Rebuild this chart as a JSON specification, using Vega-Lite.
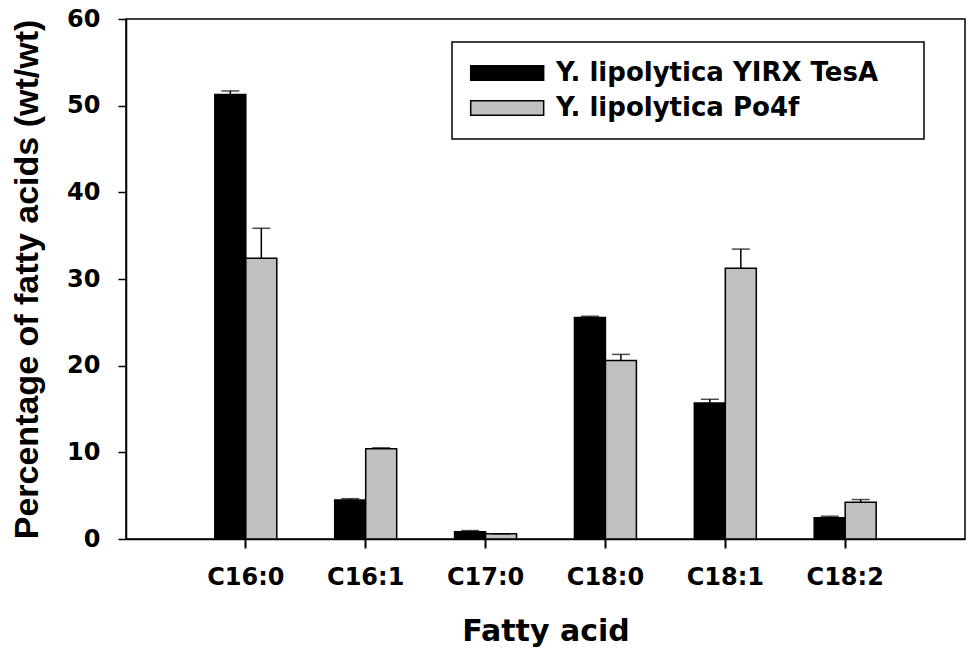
{
  "$schema": "https://vega.github.io/schema/vega-lite/v6.json",
  "width": 839,
  "height": 520,
  "autosize": {"type": "none"},
  "padding": {"left": 126, "top": 19, "right": 9, "bottom": 120},
  "background": "white",
  "config": {
    "view": {"stroke": "black", "strokeWidth": 1.5},
    "axis": {
      "domainColor": "black",
      "domainWidth": 1.5,
      "tickColor": "black",
      "tickWidth": 1.5,
      "tickSize": 8,
      "grid": false,
      "labelFont": "DejaVu Sans",
      "labelFontWeight": "bold",
      "labelFontSize": 24,
      "labelColor": "black",
      "titleColor": "black",
      "titleFontWeight": "bold"
    },
    "axisX": {"ticks": true, "tickSize": 9, "tickColor": "black", "tickWidth": 2},
    "legend": {
      "strokeColor": "black",
      "strokeWidth": 1.5
    }
  },
  "data": {
    "values": [
      {"acid": "C16:0", "strain": "Y. lipolytica YIRX TesA", "value": 51.3, "upper": 51.7},
      {"acid": "C16:0", "strain": "Y. lipolytica Po4f", "value": 32.4, "upper": 35.85},
      {"acid": "C16:1", "strain": "Y. lipolytica YIRX TesA", "value": 4.5, "upper": 4.65},
      {"acid": "C16:1", "strain": "Y. lipolytica Po4f", "value": 10.4, "upper": 10.52},
      {"acid": "C17:0", "strain": "Y. lipolytica YIRX TesA", "value": 0.85, "upper": 0.97},
      {"acid": "C17:0", "strain": "Y. lipolytica Po4f", "value": 0.6, "upper": 0.6},
      {"acid": "C18:0", "strain": "Y. lipolytica YIRX TesA", "value": 25.55, "upper": 25.7},
      {"acid": "C18:0", "strain": "Y. lipolytica Po4f", "value": 20.6, "upper": 21.3},
      {"acid": "C18:1", "strain": "Y. lipolytica YIRX TesA", "value": 15.7, "upper": 16.12},
      {"acid": "C18:1", "strain": "Y. lipolytica Po4f", "value": 31.25, "upper": 33.45},
      {"acid": "C18:2", "strain": "Y. lipolytica YIRX TesA", "value": 2.45, "upper": 2.63},
      {"acid": "C18:2", "strain": "Y. lipolytica Po4f", "value": 4.25, "upper": 4.55}
    ]
  },
  "layer": [
    {
      "mark": {"type": "bar", "stroke": "black", "strokeWidth": 1.5},
      "encoding": {
        "x": {
          "field": "acid",
          "type": "nominal",
          "scale": {
            "domain": ["C16:0", "C16:1", "C17:0", "C18:0", "C18:1", "C18:2"],
            "paddingInner": 0.483,
            "paddingOuter": 0.741
          },
          "axis": {
            "title": "Fatty acid",
            "titleFont": "DejaVu Sans",
            "titleFontSize": 30,
            "titlePadding": 27,
            "labelAngle": 0,
            "labelPadding": 17,
            "tickBand": "center"
          }
        },
        "xOffset": {
          "field": "strain",
          "type": "nominal",
          "scale": {
            "domain": ["Y. lipolytica YIRX TesA", "Y. lipolytica Po4f"],
            "paddingInner": 0,
            "paddingOuter": 0
          }
        },
        "y": {
          "field": "value",
          "type": "quantitative",
          "scale": {"domain": [0, 60], "nice": false},
          "axis": {
            "values": [0, 10, 20, 30, 40, 50, 60],
            "title": "Percentage of fatty acids (wt/wt)",
            "titleFont": "Liberation Sans",
            "titleFontSize": 34,
            "titlePadding": 22,
            "labelPadding": 18
          }
        },
        "color": {
          "field": "strain",
          "type": "nominal",
          "scale": {
            "domain": ["Y. lipolytica YIRX TesA", "Y. lipolytica Po4f"],
            "range": ["#000000", "#c0c0c0"]
          },
          "legend": {
            "title": null,
            "orient": "none",
            "legendX": 326,
            "legendY": 23,
            "padding": 18,
            "rowPadding": 9,
            "symbolType": "M-1,-1H9V1H-1Z",
            "symbolSize": 213,
            "symbolOffset": -5,
            "symbolStrokeColor": "black",
            "symbolStrokeWidth": 1.5,
            "symbolOpacity": 1,
            "labelFont": "DejaVu Sans",
            "labelFontWeight": "bold",
            "labelFontSize": 26,
            "labelColor": "black",
            "labelOffset": 65,
            "labelLimit": 500,
            "labelExpr": "datum.label + '\u00a0\u00a0\u00a0\u200b'"
          }
        }
      }
    },
    {
      "mark": {"type": "rule", "color": "black", "strokeWidth": 1.5},
      "encoding": {
        "x": {"field": "acid", "type": "nominal"},
        "xOffset": {"field": "strain", "type": "nominal"},
        "y": {"field": "value", "type": "quantitative"},
        "y2": {"field": "upper"}
      }
    },
    {
      "mark": {"type": "tick", "color": "black", "size": 18, "thickness": 1.5, "orient": "horizontal"},
      "encoding": {
        "x": {"field": "acid", "type": "nominal"},
        "xOffset": {"field": "strain", "type": "nominal"},
        "y": {"field": "upper", "type": "quantitative"}
      }
    }
  ]
}
